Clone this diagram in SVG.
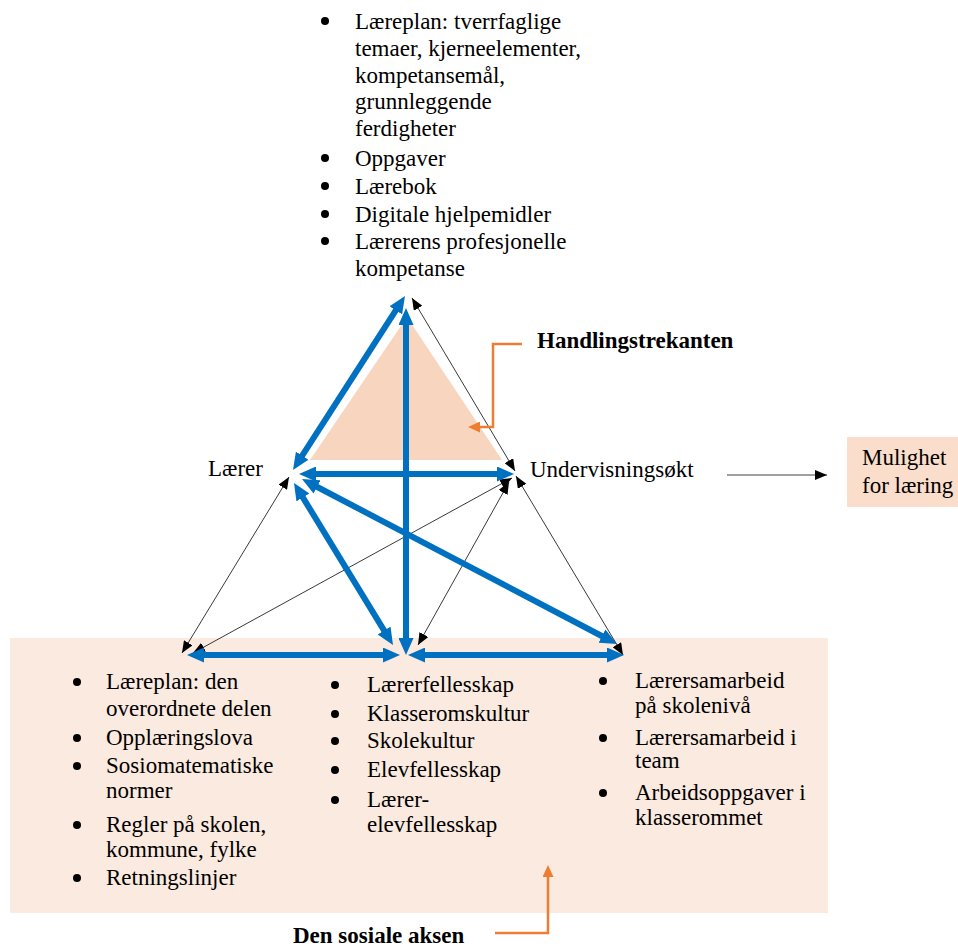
<svg xmlns="http://www.w3.org/2000/svg" width="958" height="947" viewBox="0 0 958 947">
<defs>
<style>
text{font-family:"Liberation Serif","Times New Roman",serif;font-size:23px;fill:#000}
.b{font-weight:bold}
.blue{stroke:#0070C0;stroke-width:6;fill:none;marker-start:url(#ab);marker-end:url(#ab)}
.thin{stroke:#222;stroke-width:0.9;fill:none;marker-start:url(#at);marker-end:url(#at)}
.or{stroke:#ED7D31;stroke-width:2.5;fill:none;marker-end:url(#ao)}
.dot{fill:#000}
</style>
<marker id="ab" markerUnits="userSpaceOnUse" markerWidth="17" markerHeight="15" refX="3" refY="7.5" orient="auto-start-reverse" viewBox="0 0 17 15"><path d="M0,0 L17,7.5 L0,15 z" fill="#0070C0"/></marker>
<marker id="at" markerUnits="userSpaceOnUse" markerWidth="12" markerHeight="10" refX="12" refY="5" orient="auto-start-reverse" viewBox="0 0 12 10"><path d="M0,0 L12,5 L0,10 z" fill="#000"/></marker>
<marker id="ag" markerUnits="userSpaceOnUse" markerWidth="12" markerHeight="10" refX="12" refY="5" orient="auto" viewBox="0 0 12 10"><path d="M0,0 L12,5 L0,10 z" fill="#000"/></marker>
<marker id="ao" markerUnits="userSpaceOnUse" markerWidth="12" markerHeight="11" refX="2" refY="5.5" orient="auto" viewBox="0 0 12 11"><path d="M0,0 L12,5.5 L0,11 z" fill="#ED7D31"/></marker>
</defs>
<rect width="958" height="947" fill="#fff"/>

<g id="social-box">
<rect x="10" y="638" width="818" height="275" fill="#FBEADF"/>
</g>

<g id="handlingstrekant">
<polygon points="407,317 310,460 502,460" fill="#F8D5BE"/>
</g>

<g id="top-list">
<circle class="dot" cx="325" cy="21" r="4"/>
<text x="355" y="29">Læreplan: tverrfaglige</text>
<text x="355" y="56">temaer, kjerneelementer,</text>
<text x="355" y="82.5">kompetansemål,</text>
<text x="355" y="109">grunnleggende</text>
<text x="355" y="136">ferdigheter</text>
<circle class="dot" cx="325" cy="158" r="4"/>
<text x="355" y="166">Oppgaver</text>
<circle class="dot" cx="325" cy="186" r="4"/>
<text x="355" y="194">Lærebok</text>
<circle class="dot" cx="325" cy="214" r="4"/>
<text x="355" y="222">Digitale hjelpemidler</text>
<circle class="dot" cx="325" cy="241" r="4"/>
<text x="355" y="249">Lærerens profesjonelle</text>
<text x="355" y="276">kompetanse</text>
</g>

<g id="laerer"><text x="208" y="476">Lærer</text></g>
<g id="undervisningsokt"><text x="530" y="477">Undervisningsøkt</text></g>

<g id="mulighet">
<rect x="847" y="437" width="111" height="70" fill="#FADDCB"/>
<text x="862" y="465">Mulighet</text>
<text x="862" y="493">for læring</text>
</g>

<g id="label-handling"><text class="b" x="537" y="348">Handlingstrekanten</text></g>
<g id="label-sosial"><text class="b" x="293" y="943">Den sosiale aksen</text></g>

<g id="list-left">
<circle class="dot" cx="77" cy="682" r="4"/>
<text x="106" y="689">Læreplan: den</text>
<text x="106" y="716">overordnete delen</text>
<circle class="dot" cx="77" cy="738" r="4"/>
<text x="106" y="745">Opplæringslova</text>
<circle class="dot" cx="77" cy="766" r="4"/>
<text x="106" y="773">Sosiomatematiske</text>
<text x="106" y="798">normer</text>
<circle class="dot" cx="77" cy="825" r="4"/>
<text x="106" y="832">Regler på skolen,</text>
<text x="106" y="857">kommune, fylke</text>
<circle class="dot" cx="77" cy="878" r="4"/>
<text x="106" y="885">Retningslinjer</text>
</g>

<g id="list-middle">
<circle class="dot" cx="335" cy="685" r="4"/>
<text x="367" y="692">Lærerfellesskap</text>
<circle class="dot" cx="335" cy="714" r="4"/>
<text x="367" y="721">Klasseromskultur</text>
<circle class="dot" cx="335" cy="741" r="4"/>
<text x="367" y="748">Skolekultur</text>
<circle class="dot" cx="335" cy="770" r="4"/>
<text x="367" y="777">Elevfellesskap</text>
<circle class="dot" cx="335" cy="800" r="4"/>
<text x="367" y="807">Lærer-</text>
<text x="367" y="832">elevfellesskap</text>
</g>

<g id="list-right">
<circle class="dot" cx="603" cy="681" r="4"/>
<text x="635" y="688">Lærersamarbeid</text>
<text x="635" y="713">på skolenivå</text>
<circle class="dot" cx="603" cy="738" r="4"/>
<text x="635" y="745">Lærersamarbeid i</text>
<text x="635" y="768">team</text>
<circle class="dot" cx="603" cy="793" r="4"/>
<text x="635" y="800">Arbeidsoppgaver i</text>
<text x="635" y="825">klasserommet</text>
</g>

<g id="connectors">
<line class="thin" x1="289" y1="477" x2="182" y2="653"/>
<line class="thin" x1="193" y1="653" x2="512" y2="478"/>
<line class="thin" x1="418" y1="645" x2="509" y2="482"/>
<line class="thin" x1="516" y1="476" x2="623" y2="655"/>
<line class="thin" x1="412" y1="298" x2="515" y2="471"/>
<line class="blue" x1="300.6" y1="458.2" x2="397.4" y2="307.8"/>
<line class="blue" x1="406" y1="322" x2="406" y2="641"/>
<line class="blue" x1="313" y1="474" x2="500" y2="474"/>
<line class="blue" x1="301.3" y1="494.9" x2="385.7" y2="633.1"/>
<line class="blue" x1="314.4" y1="485.5" x2="604.6" y2="637.5"/>
<line class="blue" x1="201" y1="655" x2="386" y2="655"/>
<line class="blue" x1="422" y1="655" x2="610" y2="655"/>
<line x1="727" y1="475" x2="827" y2="475" stroke="#7F7F7F" stroke-width="1.5" marker-end="url(#ag)"/>
<path class="or" d="M522,344 H493 V427 H478"/>
<path class="or" d="M495,933 H548 V875"/>
</g>
</svg>
